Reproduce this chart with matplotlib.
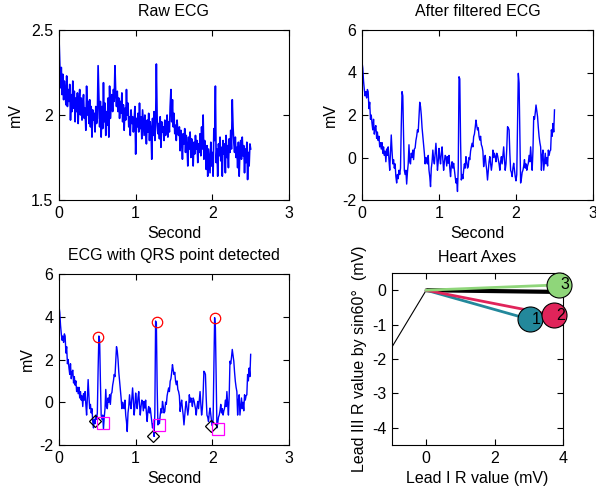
import numpy as np
import matplotlib

matplotlib.use("Agg")
import matplotlib.pyplot as plt

plt.rcParams["font.family"] = ["Liberation Sans", "DejaVu Sans"]
plt.rcParams["font.size"] = 11.5
plt.rcParams["axes.unicode_minus"] = False

DT = 0.01  # sample spacing (s)

# raw lead signal (mV), one value per 10 ms
raw_mv = [
    2.45, 2.30, 2.16, 2.28, 2.12, 2.24, 2.09, 2.20, 2.14, 2.06,
    2.23, 2.05, 2.15, 2.08, 2.18, 1.97, 2.12, 2.02, 2.20, 2.04,
    2.14, 1.96, 2.10, 2.02, 2.13, 1.95, 2.08, 2.15, 2.00, 2.10,
    1.97, 2.06, 2.12, 1.98, 2.04, 1.91, 2.17, 2.00, 2.08, 1.95,
    2.09, 1.93, 2.05, 1.87, 2.03, 1.97, 2.01, 1.90, 2.05, 1.95,
    1.98, 2.29, 2.10, 1.93, 2.08, 1.87, 2.05, 1.92, 2.19, 1.96,
    2.07, 1.88, 2.02, 1.94, 2.10, 1.87, 2.17, 1.98, 2.06, 2.12,
    2.02, 2.15, 2.08, 2.29, 2.12, 2.05, 2.14, 2.02, 2.10, 1.98,
    2.08, 2.01, 2.13, 1.96, 2.06, 1.91, 2.04, 1.97, 2.15, 2.00,
    2.07, 1.93, 1.99, 1.88, 2.03, 1.95, 1.99, 1.90, 1.96, 2.05,
    1.77, 1.98, 1.93, 2.01, 1.90, 2.07, 1.92, 1.99, 1.86, 2.03,
    1.95, 1.88, 2.00, 1.93, 1.83, 1.97, 1.90, 2.01, 1.85, 1.96,
    1.92, 1.74, 1.98, 1.88, 2.02, 1.85, 1.94, 2.30, 1.98, 1.89,
    1.95, 1.86, 1.99, 1.81, 1.96, 1.90, 1.93, 1.85, 1.97, 1.88,
    1.92, 2.00, 1.87, 1.96, 1.90, 2.05, 2.15, 1.96, 2.09, 1.93,
    2.01, 1.89, 1.94, 1.85, 1.97, 1.90, 1.88, 1.93, 1.79, 1.91,
    1.86, 1.74, 1.89, 1.83, 1.92, 1.78, 1.88, 1.82, 1.70, 1.87,
    1.80, 1.90, 1.75, 1.86, 1.81, 1.70, 1.84, 1.77, 1.88, 1.80,
    1.85, 1.72, 1.83, 1.78, 1.89, 1.76, 1.93, 1.80, 2.00, 1.74,
    1.85, 1.79, 1.68, 1.82, 1.64, 1.80, 1.73, 1.66, 1.84, 1.70,
    1.78, 1.64, 1.92, 1.85, 2.17, 1.72, 1.80, 1.64, 1.83, 1.76,
    1.87, 1.73, 1.81, 1.64, 1.85, 1.77, 1.83, 1.66, 1.88, 1.75,
    1.82, 1.69, 1.86, 1.78, 1.91, 1.80, 2.09, 1.93, 1.84, 1.78,
    1.87, 1.75, 1.81, 1.69, 1.84, 1.64, 1.79, 1.85, 1.74, 1.87,
    1.76, 1.82, 1.66, 1.80, 1.72, 1.84, 1.62, 1.78, 1.70, 1.83,
    1.80,
]

# filtered signal (mV), one value per 10 ms
filtered_mv = [
    4.50, 4.20, 3.60, 3.20, 2.90, 3.10, 2.80, 3.20, 3.10, 2.30,
    2.60, 1.80, 2.00, 1.60, 1.30, 1.80, 1.10, 1.40, 1.50, 0.90,
    1.20, 0.80, 1.00, 0.50, 0.70, 0.40, 0.70, 0.20, 0.50, 0.10,
    0.30, -0.20, 0.40, 0.10, 0.50, -0.10, -0.60, 0.20, 1.06, 0.30,
    -0.30, -0.10, -0.50, -0.30, -0.90, -1.20, -0.80, -1.00, -0.60, -0.80,
    -0.50, 1.50, 3.10, 2.90, 1.00, -0.60, -0.80, -0.60, -1.25, -0.70,
    -0.30, 0.60, -0.20, -0.30, 0.20, 0.00, 0.35, -0.10, 0.40, 0.45,
    0.80, 1.00, 1.30, 1.20, 1.90, 2.60, 2.40, 2.00, 1.40, 1.00,
    0.60, 0.20, -0.30, 0.00, -0.20, -0.30, 0.10, -0.60, -0.90, -1.37,
    -0.50, -0.20, 0.35, -0.10, -0.30, 0.20, 0.67, 0.10, -0.60, -0.20,
    0.43, 0.00, -0.30, 0.20, 0.50, -0.10, -0.60, -0.20, 0.10, 0.04,
    -0.40, 0.04, -0.27, 0.10, -0.50, -0.90, -0.40, -0.20, -0.50, -0.27,
    -0.60, -0.90, -1.20, -1.00, -1.60, -0.50, 3.80, 3.70, 0.80, -1.06,
    -0.80, -1.00, -0.60, -0.30, -0.50, 0.04, -0.20, -0.50, -0.43, 0.00,
    -0.10, 0.30, 0.50, 0.67, 0.50, 0.98, 1.10, 1.40, 1.76, 1.50,
    1.30, 1.40, 1.00, 0.82, 1.00, 0.60, 0.50, 0.30, -0.43, -0.10,
    0.10, -0.30, -0.60, -1.06, -0.60, -0.20, 0.04, -0.30, -0.60, -0.30,
    0.35, 0.00, 0.20, 0.04, -0.20, 0.20, 0.10, -0.10, -0.30, -0.60,
    -0.20, 0.04, -0.30, 0.10, 0.50, -0.10, -0.60, -0.30, 0.40, 1.45,
    1.40, 1.30, 0.20, -0.60, -0.70, -0.90, -0.50, -0.27, -0.60, -0.90,
    -1.10, -0.80, 1.50, 3.96, 3.50, 1.00, -1.20, -1.00, -0.70, -0.60,
    -0.40, -0.10, -0.50, -0.30, -0.60, -0.40, -0.27, 0.10, -0.20, 0.50,
    -0.10, -0.60, 0.30, 1.92, 1.80, 2.10, 2.47, 2.20, 1.92, 1.40,
    0.98, 0.70, 0.50, -0.60, 0.10, 0.35, -0.60, -0.20, 0.20, -0.30,
    0.00, -0.40, 0.35, 0.10, 0.30, 0.35, 1.30, 1.00, 1.60, 1.20,
    2.24,
]

# detected points (s, mV)
r_time = [0.513, 1.273, 2.038]
r_val = [3.07, 3.74, 3.93]
q_time = [0.474, 1.230, 1.986]
q_val = [-0.90, -1.57, -1.13]
s_time = [0.570, 1.310, 2.077]
s_val = [-0.95, -1.07, -1.25]

# heart axis vectors per beat (lead I R, lead III R * sin60)
beat_labels = ["1", "2", "3"]
axis_x = [3.03, 3.74, 3.89]
axis_y = [-0.85, -0.73, 0.155]
beat_colors = ["#23889b", "#e0245a", "#8fd67a"]
mean_axis = (3.85, -0.05)
ref_line_x = [-1.0, 0.0]
ref_line_y = [-1.65, 0.0]


def style_axes(ax):
    ax.tick_params(direction="in", length=4, top=True, right=True, labelsize=11.5, pad=4)
    for sp in ax.spines.values():
        sp.set_linewidth(0.8)


W, H = 596, 488
fig = plt.figure(figsize=(W / 100, H / 100), dpi=100)

t_raw = np.arange(len(raw_mv)) * DT
t_filt = np.arange(len(filtered_mv)) * DT

# Raw ECG
ax1 = fig.add_axes([59 / W, 1 - 200 / H, 230 / W, 170 / H])
ax1.plot(t_raw, raw_mv, color="#0000ff", lw=1.2)
ax1.set_xlim(0, 3)
ax1.set_ylim(1.5, 2.5)
ax1.set_xticks([0, 1, 2, 3])
ax1.set_yticks([1.5, 2, 2.5])
ax1.set_yticklabels(["1.5", "2", "2.5"])
ax1.set_title("Raw ECG", fontsize=11.5, pad=10)
ax1.set_xlabel("Second", labelpad=4)
ax1.set_ylabel("mV", labelpad=6)
style_axes(ax1)

# After filtered ECG
ax2 = fig.add_axes([362 / W, 1 - 200 / H, 231 / W, 170 / H])
ax2.plot(t_filt, filtered_mv, color="#0000ff", lw=1.0)
ax2.set_xlim(0, 3)
ax2.set_ylim(-2, 6)
ax2.set_xticks([0, 1, 2, 3])
ax2.set_yticks([-2, 0, 2, 4, 6])
ax2.set_title("After filtered ECG", fontsize=11.5, pad=10)
ax2.set_xlabel("Second", labelpad=4)
ax2.set_ylabel("mV", labelpad=3)
style_axes(ax2)

# ECG with QRS points
ax3 = fig.add_axes([59 / W, 1 - 445 / H, 230 / W, 171 / H])
ax3.plot(t_filt, filtered_mv, color="#0000ff", lw=1.0)
ax3.plot(r_time, r_val, "o", ms=7.5, mfc="none", mec="#ff0000", mew=0.9)
ax3.plot(q_time, q_val, "D", ms=6, mfc="none", mec="black", mew=0.9)
ax3.plot(s_time, s_val, "s", ms=8, mfc="none", mec="#ff00ff", mew=0.9)
ax3.set_xlim(0, 3)
ax3.set_ylim(-2, 6)
ax3.set_xticks([0, 1, 2, 3])
ax3.set_yticks([-2, 0, 2, 4, 6])
ax3.set_title("ECG with QRS point detected", fontsize=11.5, pad=10)
ax3.set_xlabel("Second", labelpad=4)
ax3.set_ylabel("mV", labelpad=3)
style_axes(ax3)

# Heart axes
ax4 = fig.add_axes([392 / W, 1 - 445 / H, 171 / W, 172 / H])
ax4.plot(ref_line_x, ref_line_y, color="black", lw=0.8)
ax4.plot([0, mean_axis[0]], [0, mean_axis[1]], color="black", lw=3, solid_capstyle="butt")
for x, y, c in zip(axis_x, axis_y, beat_colors):
    ax4.plot([0, x], [0, y], color=c, lw=2)
for lab, x, y, c in zip(beat_labels, axis_x, axis_y, beat_colors):
    ax4.plot([x], [y], "o", ms=18, mfc=c, mec="black", mew=0.8, clip_on=False, zorder=5)
    ax4.text(x + 0.05, y, lab, ha="left", va="center", fontsize=11.5, clip_on=False, zorder=6)
ax4.set_xlim(-1, 4)
ax4.set_ylim(-4.5, 0.5)
ax4.set_xticks([0, 2, 4])
ax4.set_yticks([0, -1, -2, -3, -4])
ax4.set_title("Heart Axes", fontsize=11.5, pad=8)
ax4.set_xlabel("Lead I R value (mV)", labelpad=4)
ax4.set_ylabel("Lead III R value by sin60°  (mV)", labelpad=4)
style_axes(ax4)

fig.savefig("out.png", dpi=100)
